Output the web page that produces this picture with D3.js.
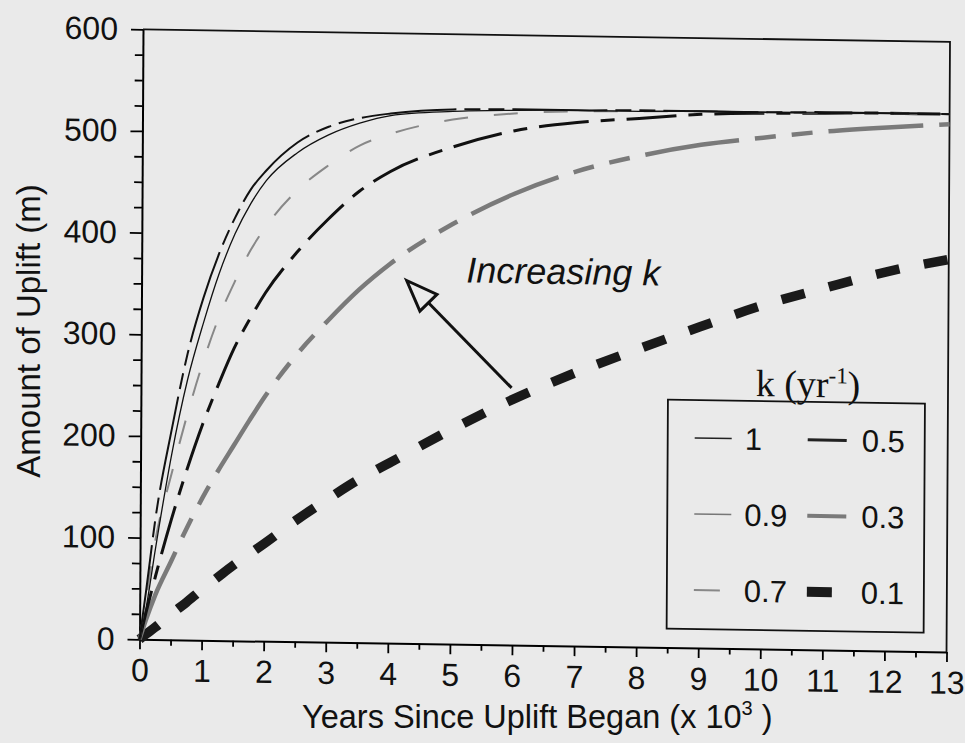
<!DOCTYPE html>
<html>
<head>
<meta charset="utf-8">
<script src="https://cdn.jsdelivr.net/npm/d3@7"></script>
<style>
  body { margin: 0; background: #eaeaea; }
  svg { display: block; font-family: "Liberation Sans", Arial, sans-serif; }
</style>
</head>
<body>
<svg id="chart" width="965" height="743"></svg>
<script>
// uplift (m) against years since uplift began (x 1000)
const years = [0, 0.1, 0.25, 0.5, 0.75, 1, 1.25, 1.5, 1.75, 2, 2.5, 3, 3.5, 4, 5, 6, 7, 8, 9, 10, 11, 12, 13];
const kValues = ["1", "0.9", "0.7", "0.5", "0.3", "0.1"];
const upliftK10 = [0, 47, 121, 207, 282, 337, 381, 416, 444, 463, 491, 507, 516, 521, 526, 527, 527, 528, 528, 528, 529, 529, 529];
const upliftK09 = [0, 30, 90, 182, 256, 312, 361, 400, 430, 453, 481, 499, 511, 519, 524, 526, 527, 527, 528, 528, 528, 529, 529];
const upliftK07 = [0, 40, 99, 163, 222, 274, 318, 353, 384, 408, 444, 469, 489, 501, 516, 523, 526, 527, 528, 528, 528, 529, 529];
const upliftK05 = [0, 26, 62, 118, 168, 213, 252, 288, 317, 343, 383, 416, 444, 464, 489, 506, 515, 520, 525, 527, 528, 529, 529];
const upliftK03 = [0, 19, 44, 77, 110, 140, 167, 192, 217, 241, 282, 316, 347, 373, 413, 444, 467, 483, 495, 503, 510, 515, 519];
const upliftK01 = [0, 5, 12, 25, 37, 50, 62, 74, 85, 96, 119, 140, 160, 177, 211, 242, 269, 293, 316, 338, 356, 373, 386];

const xMajor = d3.range(0, 14, 1);
const xMinor = d3.range(0.5, 13, 1);
const yMajor = d3.range(0, 601, 100);
const yMinor = d3.range(25, 600, 25).filter(v => v % 100 !== 0);

const series = [upliftK10, upliftK09, upliftK07, upliftK05, upliftK03, upliftK01];

// line looks of the curves, and of the little legend swatches (they differ in the scan)
const curveStyle = {
  "1":   { color: "#111", width: 2,   dash: "95,8,16,8,16,8" },
  "0.9": { color: "#111", width: 1.3, dash: null },
  "0.7": { color: "#888", width: 2,   dash: "24,26" },
  "0.5": { color: "#111", width: 3,   dash: "50,12,14,12" },
  "0.3": { color: "#7a7a7a", width: 4.5, dash: "95,16,21,16,21,16" },
  "0.1": { color: "#1a1a1a", width: 9.5, dash: "24,25" }
};
const swatchStyle = {
  "1":   { color: "#222", width: 1.5, len: 37 },
  "0.9": { color: "#777", width: 1.5, len: 37 },
  "0.7": { color: "#888", width: 2,   len: 26 },
  "0.5": { color: "#222", width: 3,   len: 39 },
  "0.3": { color: "#7a7a7a", width: 4, len: 39 },
  "0.1": { color: "#1a1a1a", width: 10, len: 25 }
};

const W = 807, H = 610;
const svg = d3.select("#chart");

// the scanned page is a little sheared, one matrix for the whole plot
const g = svg.append("g").attr("transform", "matrix(1,0.0157,-0.0057,1,143,29.3)");

const x = d3.scaleLinear().domain([0, 13]).range([0, W]);
const y = d3.scaleLinear().domain([0, 600]).range([H, 0]);

// minor ticks first
g.append("g")
  .attr("transform", `translate(0,${H})`)
  .call(d3.axisBottom(x).tickValues(xMinor).tickSize(6).tickFormat(""))
  .call(a => a.select(".domain").remove())
  .selectAll("line").attr("stroke-width", 1.8);

g.append("g")
  .call(d3.axisLeft(y).tickValues(yMinor).tickSize(8).tickFormat(""))
  .call(a => a.select(".domain").remove())
  .selectAll("line").attr("stroke-width", 1.8);

const xAxis = g.append("g")
  .attr("transform", `translate(0,${H})`)
  .call(d3.axisBottom(x).tickValues(xMajor).tickSize(10).tickSizeOuter(0).tickPadding(9));

const yAxis = g.append("g")
  .call(d3.axisLeft(y).tickValues(yMajor).tickSize(12).tickSizeOuter(0).tickPadding(13));

[xAxis, yAxis].forEach(a => {
  a.attr("font-family", null).attr("font-size", 32);
  a.select(".domain").attr("stroke-width", 2);
  a.selectAll(".tick line").attr("stroke-width", 1.8);
  a.selectAll(".tick text").attr("fill", "#111");
});

// top and right border
g.append("path")
  .attr("d", `M0,0H${W}V${H}`)
  .attr("fill", "none")
  .attr("stroke", "#111")
  .attr("stroke-width", 1.8);

const line = d3.line()
  .x((d, i) => x(years[i]))
  .y(d => y(d))
  .curve(d3.curveMonotoneX);

// thickest first so the thin ones stay visible
series.map((vals, i) => ({ k: kValues[i], vals }))
  .reverse()
  .forEach(s => {
    const st = curveStyle[s.k];
    g.append("path")
      .datum(s.vals)
      .attr("d", line)
      .attr("fill", "none")
      .attr("stroke", st.color)
      .attr("stroke-width", st.width)
      .attr("stroke-dasharray", st.dash)
      .attr("stroke-linecap", "butt");
  });

// arrow and its note
const tip = [x(4.27), y(357)];
const tail = [x(5.97), y(253)];
const ang = Math.atan2(tip[1] - tail[1], tip[0] - tail[0]);
const headLen = 31, headHalf = 12;
const base = [tip[0] - headLen * Math.cos(ang), tip[1] - headLen * Math.sin(ang)];
const px = -Math.sin(ang), py = Math.cos(ang);

g.append("line")
  .attr("x1", tail[0]).attr("y1", tail[1])
  .attr("x2", base[0]).attr("y2", base[1])
  .attr("stroke", "#111").attr("stroke-width", 3);

g.append("path")
  .attr("d", `M${tip[0]},${tip[1]}L${base[0] + px * headHalf},${base[1] + py * headHalf}L${base[0] - px * headHalf},${base[1] - py * headHalf}Z`)
  .attr("fill", "none")
  .attr("stroke", "#111")
  .attr("stroke-width", 3)
  .attr("stroke-linejoin", "miter");

g.append("text")
  .attr("x", x(5.23))
  .attr("y", y(356))
  .attr("font-size", 36)
  .attr("font-style", "italic")
  .attr("fill", "#111")
  .text("Increasing k");

// legend
const lg = g.append("g").attr("transform", "translate(527,362)");
lg.append("rect")
  .attr("width", 257).attr("height", 229)
  .attr("fill", "none").attr("stroke", "#111").attr("stroke-width", 1.8);

const title = lg.append("text")
  .attr("x", 140).attr("y", -5)
  .attr("text-anchor", "middle")
  .attr("font-family", "'Liberation Serif', 'Times New Roman', serif")
  .attr("font-size", 38)
  .attr("fill", "#111");
title.append("tspan").text("k (yr");
title.append("tspan").attr("font-size", 23).attr("dy", -14).text("-1");
title.append("tspan").attr("dy", 14).text(")");

const colX = [27, 140], labX = [77, 194], rowY = [38, 114, 190];
kValues.forEach((k, i) => {
  const c = i < 3 ? 0 : 1, r = i % 3;
  const sw = swatchStyle[k];
  lg.append("line")
    .attr("x1", colX[c]).attr("x2", colX[c] + sw.len)
    .attr("y1", rowY[r]).attr("y2", rowY[r])
    .attr("stroke", sw.color).attr("stroke-width", sw.width);
  lg.append("text")
    .attr("x", labX[c]).attr("y", rowY[r] + 11)
    .attr("font-size", 31)
    .attr("fill", "#111")
    .text(k);
});

// axis titles, set straight on the page
const xt = svg.append("text")
  .attr("x", 302).attr("y", 728)
  .attr("font-size", 32.5)
  .attr("fill", "#111");
xt.append("tspan").text("Years Since Uplift Began (x 10");
xt.append("tspan").attr("font-size", 20).attr("dy", -13).text("3");
xt.append("tspan").attr("dy", 13).text(" )");

svg.append("text")
  .attr("transform", "translate(40,331) rotate(-90)")
  .attr("text-anchor", "middle")
  .attr("font-size", 33)
  .attr("fill", "#111")
  .text("Amount of Uplift (m)");
</script>
</body>
</html>
